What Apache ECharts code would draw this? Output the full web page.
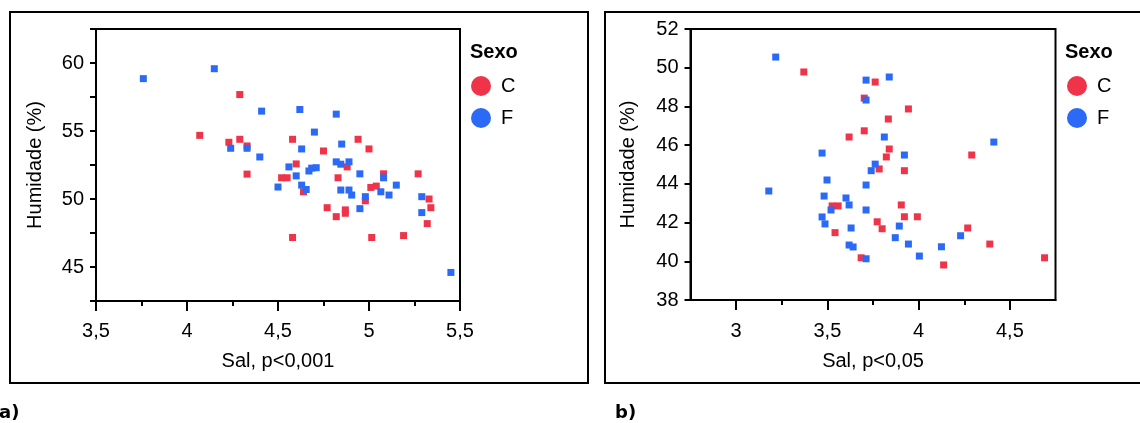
<!DOCTYPE html>
<html>
<head>
<meta charset="utf-8">
<script src="https://cdn.jsdelivr.net/npm/echarts@6/dist/echarts.min.js"></script>
<style>
html,body{margin:0;padding:0;background:#fff;}
#chart{width:1140px;height:423px;}
</style>
</head>
<body>
<div id="chart"></div>
<script>
// ---- Data: panel a) Sal (x) vs Humidade % (y) ----
const aC = [
  [4.29,57.68],[4.07,54.68],[4.23,54.17],[4.29,54.39],[4.33,53.9],[4.58,54.39],
  [4.75,53.53],[4.94,54.39],[5.00,53.68],[4.60,52.58],[4.88,52.36],[4.33,51.83],
  [4.52,51.56],[4.55,51.56],[4.83,51.56],[5.08,51.85],[5.27,51.85],[4.64,50.53],
  [4.98,49.87],[5.01,50.85],[5.04,50.95],[5.33,50.0],[5.34,49.36],[5.32,48.19],
  [4.77,49.36],[4.82,48.7],[4.87,48.95],[4.87,49.2],[4.58,47.17],[5.015,47.17],[5.19,47.31]
];
const aF = [
  [3.76,58.85],[4.15,59.58],[4.41,56.46],[4.62,56.58],[4.82,56.24],[4.70,54.92],
  [4.63,53.68],[4.85,54.04],[4.33,53.73],[4.24,53.73],[4.40,53.09],[4.56,52.36],
  [4.685,52.27],[4.82,52.73],[4.845,52.56],[4.89,52.73],[4.67,52.06],[4.71,52.3],
  [4.60,51.70],[4.95,51.85],[5.08,51.56],[5.15,51.02],[4.63,51.02],[4.655,50.7],
  [4.50,50.88],[4.845,50.66],[4.89,50.66],[4.905,50.29],[4.98,50.17],[5.065,50.53],
  [5.11,50.29],[5.29,50.17],[5.29,49.0],[4.95,49.29],[5.45,44.6]
];
// ---- Data: panel b) ----
const bC = [
  [3.371,49.78],[3.702,48.43],[3.702,46.74],[3.619,46.42],[3.762,49.26],[3.944,47.87],
  [3.834,47.35],[3.839,45.80],[3.823,45.39],[4.291,45.49],[3.784,44.77],[3.922,44.68],
  [3.905,42.91],[3.922,42.30],[3.993,42.30],[3.773,42.04],[3.80,41.68],[4.269,41.72],
  [4.39,40.89],[4.137,39.81],[3.685,40.18],[3.526,42.86],[3.559,42.86],[3.542,41.48],
  [4.69,40.18]
];
const bF = [
  [3.217,50.55],[3.712,49.36],[3.839,49.52],[3.712,48.33],[3.471,45.59],[3.812,46.42],
  [4.412,46.16],[3.922,45.49],[3.762,45.02],[3.74,44.68],[3.712,43.94],[3.712,42.65],
  [3.894,41.82],[3.872,41.22],[3.944,40.89],[4.23,41.32],[4.125,40.75],[4.004,40.27],
  [3.712,40.13],[3.179,43.63],[3.498,44.20],[3.482,43.37],[3.602,43.27],[3.619,42.91],
  [3.52,42.65],[3.471,42.29],[3.487,41.93],[3.63,41.72],[3.619,40.84],[3.641,40.74]
];
// ---- Text / ticks ----
const seriesNames = ['C','F'];
const legendTitle = 'Sexo';
const yName = 'Humidade (%)';
const xNameA = 'Sal, p<0,001';
const xNameB = 'Sal, p<0,05';
const bMajorTicks = [3, 3.5, 4, 4.5];
const bMinorTicks = [3.25, 3.75, 4.25];

const FONT = "'Liberation Sans', Arial, sans-serif";
const RED = '#EF3349', BLUE = '#2A6AF6';
const comma = v => String(v).replace('.', ',');
const lbl = {color:'#000', fontSize:20, fontFamily:FONT};

const chart = echarts.init(document.getElementById('chart'), null, {renderer:'canvas'});
const axisLine = {show:true, lineStyle:{color:'#000', width:2}};

chart.setOption({
  animation:false,
  backgroundColor:'#fff',
  color:[RED, BLUE],
  textStyle:{fontFamily:FONT},
  grid:[
    {left:96, top:29, width:364, height:272, show:true, borderColor:'#000', borderWidth:2, containLabel:false},
    {left:690.5, top:29, width:365, height:271, show:true, borderColor:'#000', borderWidth:2, containLabel:false}
  ],
  xAxis:[
    {gridIndex:0, type:'value', min:3.5, max:5.5, interval:0.5,
     axisLine:axisLine, splitLine:{show:false},
     axisTick:{show:true, length:10, lineStyle:{color:'#000', width:2}},
     minorTick:{show:true, splitNumber:2, length:5, lineStyle:{color:'#000', width:2}},
     axisLabel:Object.assign({margin:20, formatter:comma}, lbl),
     name:xNameA, nameLocation:'middle', nameGap:50, nameTextStyle:lbl},
    {gridIndex:1, type:'value', min:2.75, max:4.75,
     axisLine:axisLine, splitLine:{show:false},
     axisTick:{show:true, length:10, customValues:bMajorTicks, lineStyle:{color:'#000', width:2}},
     axisLabel:Object.assign({margin:21, formatter:comma, customValues:bMajorTicks}, lbl),
     name:xNameB, nameLocation:'middle', nameGap:51, nameTextStyle:lbl},
    {gridIndex:1, type:'value', min:2.75, max:4.75, position:'bottom',
     axisLine:{show:false}, splitLine:{show:false},
     axisTick:{show:true, length:5, customValues:bMinorTicks, lineStyle:{color:'#000', width:2}},
     axisLabel:{show:false}}
  ],
  yAxis:[
    {gridIndex:0, type:'value', min:42.5, max:62.5, interval:2.5,
     axisLine:axisLine, splitLine:{show:false},
     axisTick:{show:true, length:6, lineStyle:{color:'#000', width:2}},
     axisLabel:Object.assign({margin:12, formatter:v => (v % 5 === 0 ? comma(v) : '')}, lbl),
     name:yName, nameLocation:'middle', nameGap:51, nameRotate:90, nameTextStyle:lbl},
    {gridIndex:1, type:'value', min:38, max:52, interval:2,
     axisLine:axisLine, splitLine:{show:false},
     axisTick:{show:true, length:6, lineStyle:{color:'#000', width:2}},
     axisLabel:Object.assign({margin:12, formatter:comma}, lbl),
     name:yName, nameLocation:'middle', nameGap:52, nameRotate:90, nameTextStyle:lbl}
  ],
  legend:[
    {data:seriesNames, orient:'vertical', left:466, top:71, icon:'circle',
     itemWidth:20, itemHeight:20, itemGap:12,
     textStyle:{color:'#000', fontSize:20, fontFamily:FONT, padding:[0,0,0,5]}},
    {data:seriesNames, orient:'vertical', left:1062, top:71, icon:'circle',
     itemWidth:20, itemHeight:20, itemGap:12,
     textStyle:{color:'#000', fontSize:20, fontFamily:FONT, padding:[0,0,0,5]}}
  ],
  series:[
    {name:seriesNames[0], type:'scatter', xAxisIndex:0, yAxisIndex:0, data:aC, symbol:'rect', symbolSize:7, itemStyle:{color:RED, opacity:1}},
    {name:seriesNames[1], type:'scatter', xAxisIndex:0, yAxisIndex:0, data:aF, symbol:'rect', symbolSize:7, itemStyle:{color:BLUE, opacity:1}},
    {name:seriesNames[0], type:'scatter', xAxisIndex:1, yAxisIndex:1, data:bC, symbol:'rect', symbolSize:7, itemStyle:{color:RED, opacity:1}},
    {name:seriesNames[1], type:'scatter', xAxisIndex:1, yAxisIndex:1, data:bF, symbol:'rect', symbolSize:7, itemStyle:{color:BLUE, opacity:1}}
  ],
  graphic:[
    {type:'rect', shape:{x:10, y:12, width:578, height:371}, style:{fill:null, stroke:'#000', lineWidth:2}, silent:true},
    {type:'rect', shape:{x:605, y:12, width:600, height:371}, style:{fill:null, stroke:'#000', lineWidth:2}, silent:true},
    {type:'text', x:470, y:52, style:{text:legendTitle, font:"bold 20px " + FONT, fill:'#000', textVerticalAlign:'middle'}},
    {type:'text', x:1065, y:52, style:{text:legendTitle, font:"bold 20px " + FONT, fill:'#000', textVerticalAlign:'middle'}},
    {type:'text', x:-1, y:413, style:{text:'a)', font:"bold 18px 'DejaVu Sans', sans-serif", fill:'#000', textVerticalAlign:'middle'}},
    {type:'text', x:615, y:413, style:{text:'b)', font:"bold 18px 'DejaVu Sans', sans-serif", fill:'#000', textVerticalAlign:'middle'}}
  ]
});
</script>
</body>
</html>
